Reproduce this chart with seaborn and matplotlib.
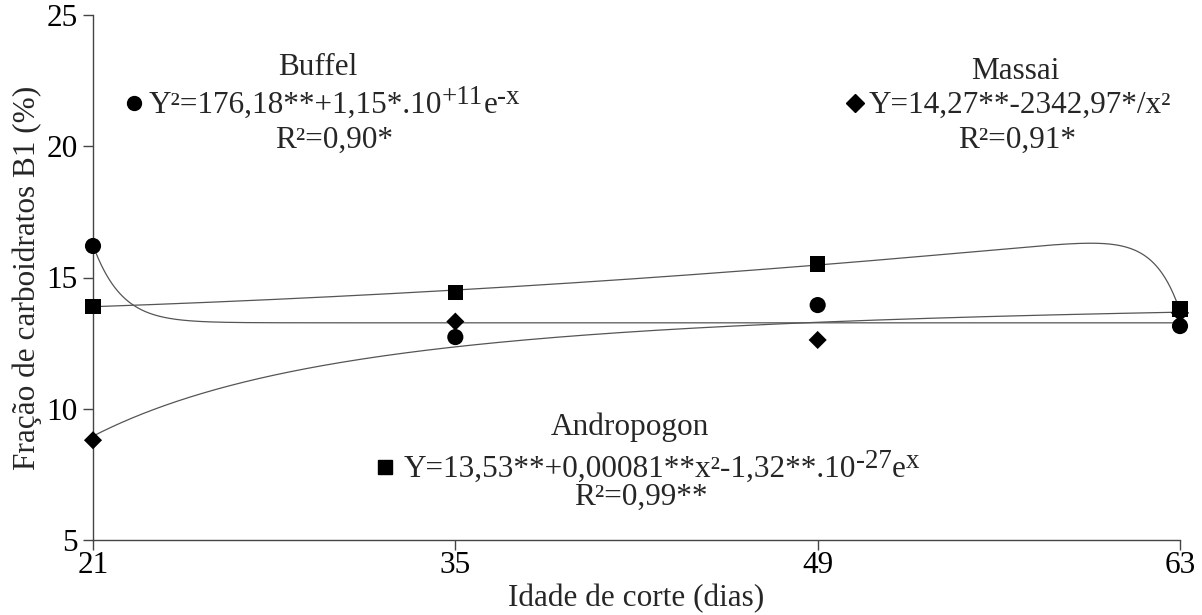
import numpy as np
import pandas as pd
import matplotlib
matplotlib.use("Agg")
import matplotlib.pyplot as plt
import seaborn as sns

# Cutting ages (days) and B1 carbohydrate fraction (%) per grass
idade = [21, 35, 49, 63]
buffel = [16.2, 12.73, 13.95, 13.15]
massai = [8.8, 13.32, 12.62, 13.65]
andropogon = [13.9, 14.43, 15.51, 13.8]

# Regression coefficients reported for each grass
buffel_coef = [176.18, 1.15e11]                 # Y^2 = a + b*e^-x
massai_coef = [14.27, 2342.97]                  # Y = a - b/x^2
andropogon_coef = [13.53, 0.00081, 1.32e-27]    # Y = a + b*x^2 - c*e^x

x_ticks = [21, 35, 49, 63]
y_ticks = [5, 10, 15, 20, 25]

sns.set_theme(style="ticks")
plt.rcParams["font.family"] = ["Liberation Serif", "DejaVu Serif"]

FS = 22.5
SUP = 0.86 * FS

pts = pd.DataFrame({
    "idade": idade * 3,
    "valor": buffel + massai + andropogon,
    "capim": ["Buffel"] * 4 + ["Massai"] * 4 + ["Andropogon"] * 4,
})

xs = np.linspace(21, 63, 800)
fit_b = np.sqrt(buffel_coef[0] + buffel_coef[1] * np.exp(-xs))
fit_m = massai_coef[0] - massai_coef[1] / xs ** 2
fit_a = andropogon_coef[0] + andropogon_coef[1] * xs ** 2 - andropogon_coef[2] * np.exp(xs)
curves = pd.DataFrame({
    "idade": np.concatenate([xs, xs, xs]),
    "valor": np.concatenate([fit_b, fit_m, fit_a]),
    "capim": ["Buffel"] * len(xs) + ["Massai"] * len(xs) + ["Andropogon"] * len(xs),
})

fig = plt.figure(figsize=(12.02, 6.15), dpi=100)
ax = fig.add_axes([93 / 1202, 1 - 540 / 615, (1180 - 93) / 1202, (540 - 15) / 615])

sns.lineplot(data=curves, x="idade", y="valor", units="capim", estimator=None,
             color="#555555", linewidth=0.9, ax=ax, legend=False, sort=False)

markers = {"Buffel": "o", "Massai": "D", "Andropogon": "s"}
sizes = {"Buffel": 135, "Massai": 85, "Andropogon": 125}
for nome, mk in markers.items():
    sub = pts[pts["capim"] == nome]
    sns.scatterplot(data=sub, x="idade", y="valor", marker=mk, s=sizes[nome],
                    color="black", edgecolor="none", ax=ax, legend=False,
                    zorder=5, clip_on=False)

ax.set_xlim(21, 63)
ax.set_ylim(5, 25)
ax.set_xticks(x_ticks)
ax.set_yticks(y_ticks)
ax.tick_params(axis="both", labelsize=FS, direction="out", length=7, width=1,
               color="#444444", labelcolor="black")
ax.tick_params(axis="x", pad=1)
ax.tick_params(axis="y", pad=4)
for s in ["top", "right"]:
    ax.spines[s].set_visible(False)
for s in ["left", "bottom"]:
    ax.spines[s].set_color("#444444")
    ax.spines[s].set_linewidth(1.0)

ax.set_xlabel("Idade de corte (dias)", fontsize=FS, labelpad=3)
ax.set_ylabel("Fração de carboidratos B1 (%)", fontsize=FS, labelpad=3)


def equation(x, y, parts, rise=7):
    """Write an equation made of (text, superscript?) pieces, left-aligned at x, y."""
    base = ax.text(x, y, parts[0][0], fontsize=FS, ha="left", va="bottom")
    prev = base
    for txt, sup in parts[1:]:
        prev = ax.annotate(txt, xy=(1, 0), xycoords=(prev, base),
                           xytext=(0, rise if sup else 0), textcoords="offset points",
                           fontsize=SUP if sup else FS, ha="left", va="bottom")
    return base


# Buffel
ax.text(29.69, 23.0, "Buffel", fontsize=FS, ha="center", va="center")
ax.plot([22.58], [21.65], marker="o", color="black", markersize=10, clip_on=False)
equation(23.15, 21.0, [("Y²=176,18**+1,15*.10", False), ("+11", True),
                       ("e", False), ("-x", True)])
ax.text(30.3, 20.24, "R²=0,90*", fontsize=FS, ha="center", va="center")

# Massai
ax.text(56.62, 22.85, "Massai", fontsize=FS, ha="center", va="center")
ax.plot([50.44], [21.65], marker="D", color="black", markersize=9, clip_on=False)
equation(50.95, 21.0, [("Y=14,27**-2342,97*/x²", False)])
ax.text(56.7, 20.24, "R²=0,91*", fontsize=FS, ha="center", va="center")

# Andropogon
ax.text(41.75, 9.3, "Andropogon", fontsize=FS, ha="center", va="center")
ax.plot([32.28], [7.78], marker="s", color="black", markersize=10, clip_on=False)
equation(33.0, 7.13, [("Y=13,53**+0,00081**x²-1,32**.10", False), ("-27", True),
                      ("e", False), ("x", True)])
ax.text(42.15, 6.64, "R²=0,99**", fontsize=FS, ha="center", va="center")

fig.savefig("out.png", dpi=100)
